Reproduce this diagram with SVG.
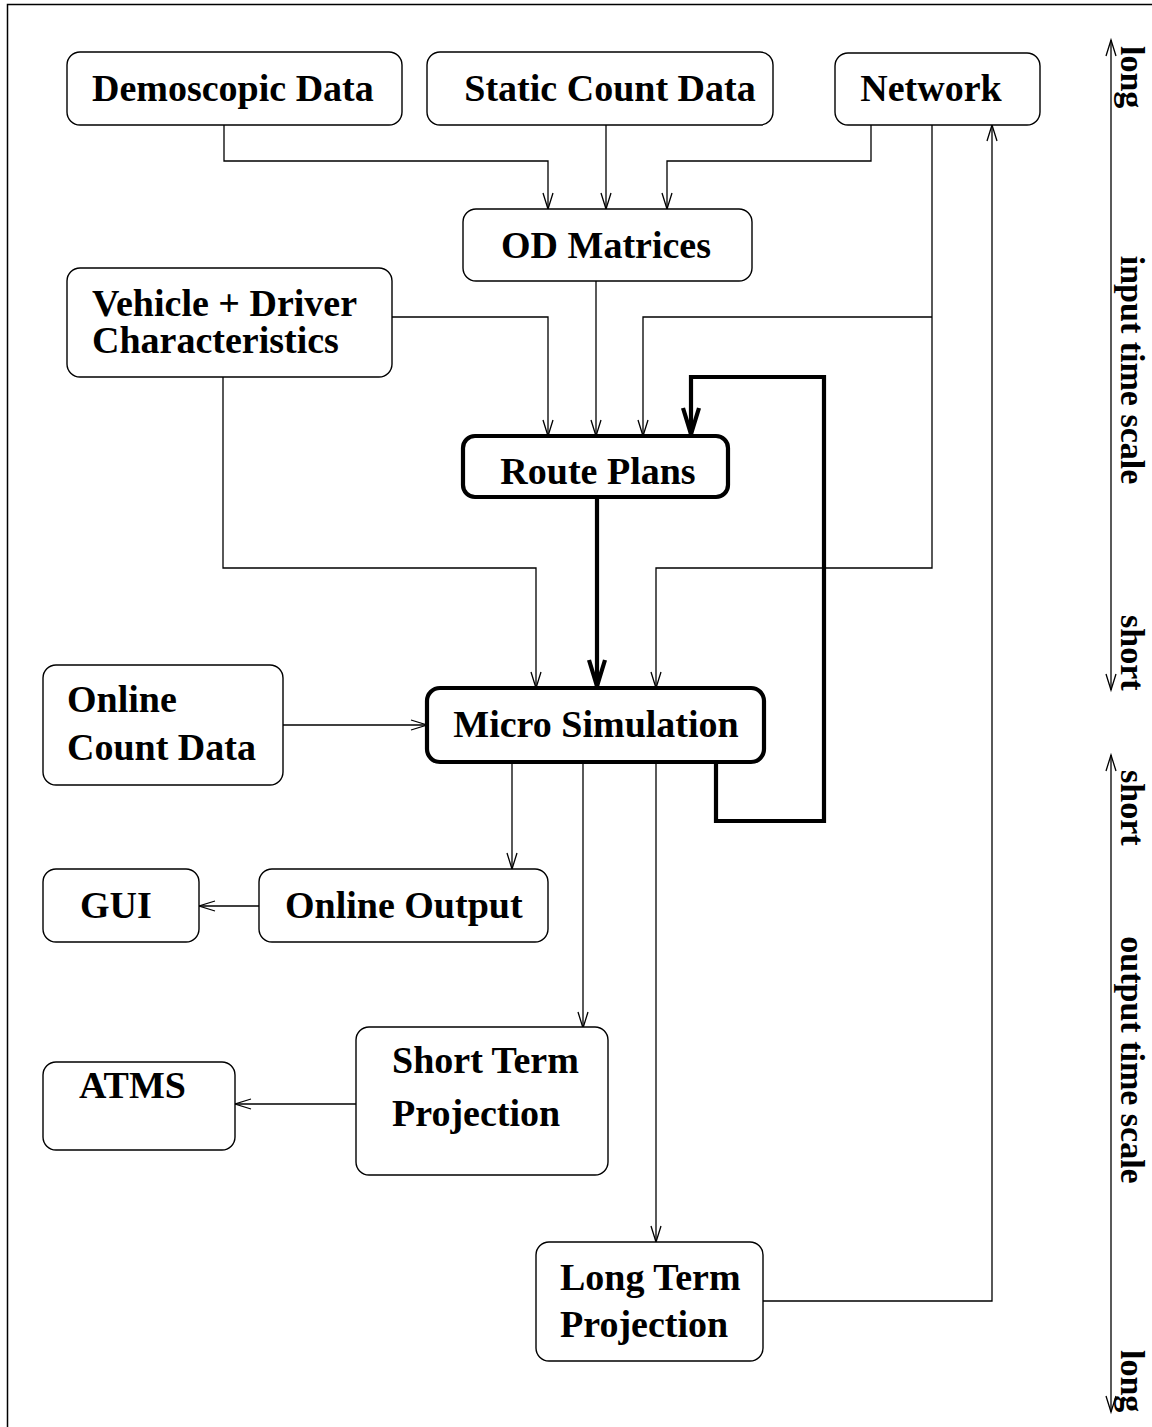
<svg xmlns="http://www.w3.org/2000/svg" width="1152" height="1427" viewBox="0 0 1152 1427">
<style>
.box{fill:#fff;stroke:#000;stroke-width:1.4}
.thick{fill:#fff;stroke:#000;stroke-width:4.2}
.lbl{font-family:"Liberation Serif","Times New Roman",serif;font-weight:bold;font-size:38px;fill:#000}
.sc{font-family:"Liberation Serif","Times New Roman",serif;font-weight:bold;font-size:34px;fill:#000}
.c{text-anchor:middle}
.ln{fill:none;stroke:#000;stroke-width:1.3}
.tk{fill:none;stroke:#000;stroke-width:4.2}
</style>
<defs>
<marker id="a" markerUnits="userSpaceOnUse" viewBox="-1 -1 18 12" markerWidth="18" markerHeight="12" refX="16" refY="5" orient="auto-start-reverse" overflow="visible">
<path d="M0,0 L16,5 L0,10" fill="none" stroke="#000" stroke-width="1.3"/>
</marker>
<marker id="t" markerUnits="userSpaceOnUse" viewBox="-2 -2 30 20" markerWidth="30" markerHeight="20" refX="26" refY="8" orient="auto" overflow="visible">
<path d="M0,0 L26,8 L0,16" fill="none" stroke="#000" stroke-width="4.2"/>
</marker>
</defs>
<rect width="1152" height="1427" fill="#fff"/>
<path d="M7.5,1427 V4.5 H1152" fill="none" stroke="#000" stroke-width="1.5"/>

<g id="connectors">
<path class="ln" d="M224,125 V161 H548 V209" marker-end="url(#a)"/>
<path class="ln" d="M606,125 V209" marker-end="url(#a)"/>
<path class="ln" d="M871,125 V161 H667 V209" marker-end="url(#a)"/>
<path class="ln" d="M932,125 V568 H656 V688" marker-end="url(#a)"/>
<path class="ln" d="M932,317 H643 V436" marker-end="url(#a)"/>
<path class="ln" d="M596,281 V436" marker-end="url(#a)"/>
<path class="ln" d="M392,317 H548 V436" marker-end="url(#a)"/>
<path class="ln" d="M223,377 V568 H536 V688" marker-end="url(#a)"/>
<path class="tk" d="M597,497 V686" marker-end="url(#t)"/>
<path class="tk" d="M716,762 V821 H824 V377 H691 V434" marker-end="url(#t)"/>
<path class="ln" d="M283,725 H427" marker-end="url(#a)"/>
<path class="ln" d="M512,762 V869" marker-end="url(#a)"/>
<path class="ln" d="M259,906 H199" marker-end="url(#a)"/>
<path class="ln" d="M583,762 V1028" marker-end="url(#a)"/>
<path class="ln" d="M356,1104 H235" marker-end="url(#a)"/>
<path class="ln" d="M656,762 V1242" marker-end="url(#a)"/>
<path class="ln" d="M763,1301 H992 V125" marker-end="url(#a)"/>
<path class="ln" d="M1111,40 V690" marker-start="url(#a)" marker-end="url(#a)"/>
<path class="ln" d="M1111,755 V1412" marker-start="url(#a)" marker-end="url(#a)"/>
</g>

<g id="demoscopic">
<rect class="box" x="67" y="52" width="335" height="73" rx="13"/>
<text class="lbl" x="92" y="101">Demoscopic Data</text>
</g>
<g id="static-count">
<rect class="box" x="427" y="52" width="346" height="73" rx="13"/>
<text class="lbl c" x="610" y="101">Static Count Data</text>
</g>
<g id="network">
<rect class="box" x="835" y="53" width="205" height="72" rx="13"/>
<text class="lbl c" x="931" y="101">Network</text>
</g>
<g id="od-matrices">
<rect class="box" x="463" y="209" width="289" height="72" rx="13"/>
<text class="lbl c" x="606" y="258">OD Matrices</text>
</g>
<g id="vehicle">
<rect class="box" x="67" y="268" width="325" height="109" rx="13"/>
<text class="lbl" x="92" y="316">Vehicle + Driver</text>
<text class="lbl" x="92" y="353">Characteristics</text>
</g>
<g id="route-plans">
<rect class="thick" x="463" y="436" width="265" height="61" rx="12"/>
<text class="lbl c" x="598" y="484">Route Plans</text>
</g>
<g id="online-count">
<rect class="box" x="43" y="665" width="240" height="120" rx="13"/>
<text class="lbl" x="67" y="712">Online</text>
<text class="lbl" x="67" y="760">Count Data</text>
</g>
<g id="micro-simulation">
<rect class="thick" x="427" y="688" width="337" height="74" rx="13"/>
<text class="lbl c" x="596" y="737">Micro Simulation</text>
</g>
<g id="gui">
<rect class="box" x="43" y="869" width="156" height="73" rx="13"/>
<text class="lbl" x="80" y="918">GUI</text>
</g>
<g id="online-output">
<rect class="box" x="259" y="869" width="289" height="73" rx="13"/>
<text class="lbl" x="285" y="918">Online Output</text>
</g>
<g id="atms">
<rect class="box" x="43" y="1062" width="192" height="88" rx="13"/>
<text class="lbl" x="79" y="1098">ATMS</text>
</g>
<g id="short-term">
<rect class="box" x="356" y="1027" width="252" height="148" rx="13"/>
<text class="lbl" x="392" y="1073">Short Term</text>
<text class="lbl" x="392" y="1126">Projection</text>
</g>
<g id="long-term">
<rect class="box" x="536" y="1242" width="227" height="119" rx="13"/>
<text class="lbl" x="560" y="1290">Long Term</text>
<text class="lbl" x="560" y="1337">Projection</text>
</g>
<g id="scales">
<text class="sc" transform="translate(1121,46) rotate(90)">long</text>
<text class="sc c" transform="translate(1121,370) rotate(90)">input time scale</text>
<text class="sc" transform="translate(1121,615) rotate(90)">short</text>
<text class="sc" transform="translate(1121,770) rotate(90)">short</text>
<text class="sc c" transform="translate(1121,1060) rotate(90)">output time scale</text>
<text class="sc" transform="translate(1121,1350) rotate(90)">long</text>
</g>
</svg>
